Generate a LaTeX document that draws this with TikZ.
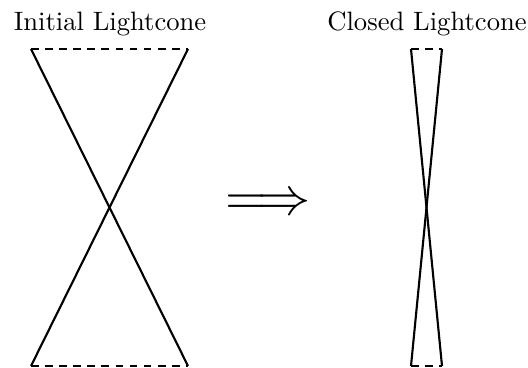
\documentclass[tikz,border=0pt]{standalone}
\usepackage{graphicx}
\begin{document}
\begin{tikzpicture}[x=0.376pt,y=-0.376pt,
  cone/.style={line width=0.8pt},
  capline/.style={line width=0.45pt, dash pattern=on 2.9pt off 2.4pt},
  lbl/.style={anchor=base, inner sep=0pt}]
\useasboundingbox (0,0) rectangle (528,368);
% initial cone
\coordinate (a1) at (31,49);
\coordinate (a2) at (188,49);
\coordinate (a3) at (31,366);
\coordinate (a4) at (188,366);
\draw[cone] (a1) -- (a4);
\draw[cone] (a2) -- (a3);
\draw[capline] (a1) -- (a2);
\draw[capline] (a3) -- (a4);
% closed cone
\coordinate (b1) at (411,49);
\coordinate (b2) at (442,49);
\coordinate (b3) at (411,366);
\coordinate (b4) at (442,366);
\draw[cone] (b1) -- (b4);
\draw[cone] (b2) -- (b3);
\draw[capline] (b1) -- (b2);
\draw[capline] (b3) -- (b4);
% labels
\node[lbl] (t1) at (110,31) {Initial Lightcone};
\node[lbl] (t2) at (427,31) {Closed Lightcone};
% arrow
\node[inner sep=0pt] (arr) at (268,205) {\scalebox{2.0}{$\Longrightarrow$}};
\end{tikzpicture}
\end{document}
